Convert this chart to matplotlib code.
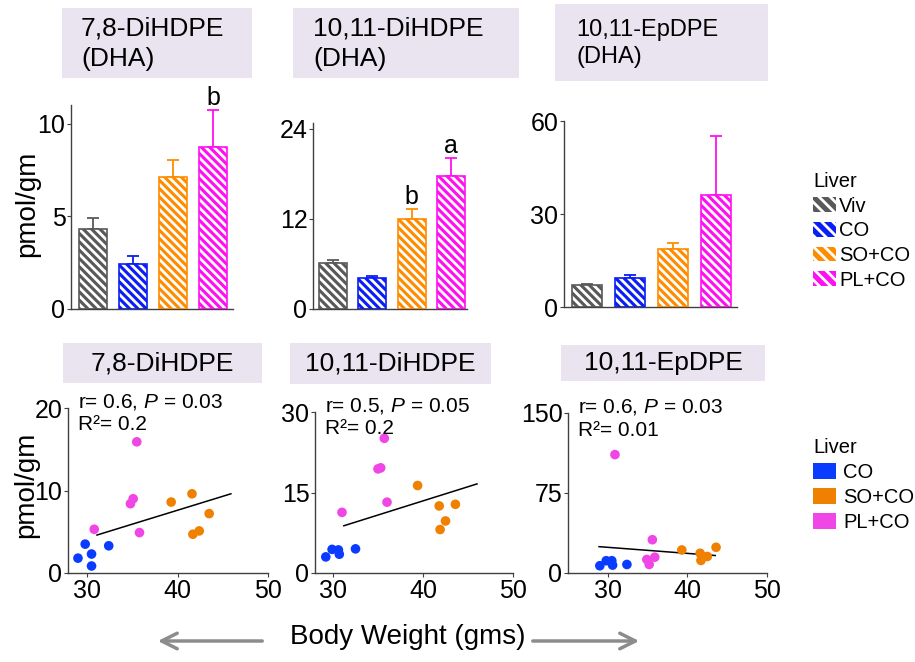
import numpy as np
import matplotlib
matplotlib.use('Agg')
import matplotlib.pyplot as plt
from matplotlib.patches import Patch, Rectangle, FancyArrowPatch

plt.rcParams['font.family'] = ['Liberation Sans', 'DejaVu Sans']
plt.rcParams['mathtext.fontset'] = 'custom'
plt.rcParams['mathtext.rm'] = 'Liberation Sans'
plt.rcParams['mathtext.it'] = 'Liberation Sans:italic'
plt.rcParams['hatch.linewidth'] = 2.0

# ---- data: bar panels (liver, pmol/gm) ----
groups = ['Viv', 'CO', 'SO+CO', 'PL+CO']
bar_colors = ['#595959', '#0A1EF5', '#FF8C00', '#FF10F0']

bar_titles = ['7,8-DiHDPE\n(DHA)', '10,11-DiHDPE\n(DHA)', '10,11-EpDPE\n(DHA)']
diHDPE78_mean = [4.3, 2.45, 7.13, 8.76]
diHDPE78_err = [0.62, 0.42, 0.92, 1.95]
diHDPE1011_mean = [6.1, 4.1, 12.0, 17.7]
diHDPE1011_err = [0.45, 0.3, 1.3, 2.4]
epDPE1011_mean = [7.0, 9.5, 18.7, 36.1]
epDPE1011_err = [0.5, 0.7, 1.9, 19.1]
bar_letters = [{3: 'b'}, {2: 'b', 3: 'a'}, {}]

# ---- data: scatter panels vs body weight ----
sc_titles = ['7,8-DiHDPE', '10,11-DiHDPE', '10,11-EpDPE']
sc_groups = ['CO', 'SO+CO', 'PL+CO']
sc_colors = ['#0A3CFF', '#F08000', '#F046E6']

bw_co = [29.0, 29.8, 30.5, 30.5, 32.4]
bw_so = [39.3, 41.6, 41.7, 42.4, 43.5]
bw_pl = [30.8, 34.8, 35.1, 35.5, 35.8]
s1_co = [1.8, 3.5, 2.3, 0.85, 3.3]
s1_so = [8.6, 9.6, 4.7, 5.1, 7.2]
s1_pl = [5.3, 8.4, 9.0, 15.9, 4.9]

bw2_co = [29.2, 29.9, 30.7, 30.6, 32.5]
bw2_so = [39.4, 41.8, 41.9, 42.5, 43.6]
bw2_pl = [31.0, 35.0, 35.3, 35.7, 36.0]
s2_co = [3.0, 4.4, 3.5, 4.3, 4.5]
s2_so = [16.3, 12.5, 8.1, 9.7, 12.8]
s2_pl = [11.3, 19.4, 19.6, 25.1, 13.2]

bw3_co = [29.0, 29.8, 30.5, 30.6, 32.4]
bw3_so = [39.3, 41.6, 41.7, 42.5, 43.6]
bw3_pl = [30.9, 34.9, 35.2, 35.6, 35.9]
s3_co = [6.8, 11.5, 11.5, 7.4, 8.0]
s3_so = [21.6, 18.5, 11.8, 15.5, 24.1]
s3_pl = [111, 12.7, 8.0, 31.2, 14.8]

# regression line ends
fit_x = [[31.1, 45.9], [31.2, 46.0], [28.9, 43.5]]
fit_y = [[4.6, 9.6], [8.8, 16.6], [24.7, 16.4]]
stats = [('r= 0.6, $\\it{P}$ = 0.03', 'R²= 0.2'),
         ('r= 0.5, $\\it{P}$ = 0.05', 'R²= 0.2'),
         ('r= 0.6, $\\it{P}$ = 0.03', 'R²= 0.01')]

W, H = 915, 662
fig = plt.figure(figsize=(W / 100, H / 100), dpi=100)


def fx(px):
    return px / W


def fy(py):
    return 1 - py / H


def axes_px(l, r, t, b):
    return fig.add_axes([fx(l), fy(b), (r - l) / W, (b - t) / H])


def style(ax):
    for s in ['top', 'right']:
        ax.spines[s].set_visible(False)
    for s in ['left', 'bottom']:
        ax.spines[s].set_color('#404040')
        ax.spines[s].set_linewidth(1.0)
    ax.tick_params(labelsize=18, length=3, width=0.8, pad=1, color='#404040')


box_color = '#E9E4EF'
HATCH = '\\\\\\\\'

# ---- top bar charts ----
bar_axes = [(71, 233, 105, 309, (0, 11), [0, 5, 10], (-0.55, 3.5)),
            (313, 467, 123, 309, (0, 24.8), [0, 12, 24], (-0.5, 3.4)),
            (564, 737, 121, 307, (0, 60), [0, 30, 60], (-0.53, 3.49))]
means = [diHDPE78_mean, diHDPE1011_mean, epDPE1011_mean]
errs = [diHDPE78_err, diHDPE1011_err, epDPE1011_err]
x = np.arange(len(groups))
for i, (l, r, t, b, yl, yt, xl) in enumerate(bar_axes):
    ax = axes_px(l, r, t, b)
    style(ax)
    for j in range(len(groups)):
        ax.errorbar(x[j], means[i][j], yerr=[[0], [errs[i][j]]], fmt='none',
                    ecolor=bar_colors[j], elinewidth=1.3, capsize=4.5,
                    capthick=1.3, zorder=1)
        ax.bar(x[j], means[i][j], width=0.7, color=bar_colors[j],
               edgecolor='white', hatch=HATCH, linewidth=0, zorder=2)
        ax.bar(x[j], means[i][j], width=0.7, fill=False,
               edgecolor=bar_colors[j], linewidth=1.2, zorder=3)
    for j, let in bar_letters[i].items():
        ax.text(x[j], means[i][j] + errs[i][j], let, ha='center', va='bottom',
                fontsize=18, clip_on=False)
    ax.set_ylim(*yl)
    ax.set_yticks(yt)
    ax.set_xlim(*xl)
    ax.set_xticks([])

# header boxes
top_boxes = [(62, 252, 8, 78, 81, 19), (293, 519, 8, 78, 313, 19),
             (555, 768, 4, 81, 576, 17)]
for (l, r, t, b, tx, fs), title in zip(top_boxes, bar_titles):
    fig.add_artist(Rectangle((fx(l), fy(b)), (r - l) / W, (b - t) / H,
                             transform=fig.transFigure, color=box_color, lw=0))
    fig.text(fx(tx), fy((t + b) / 2 + 1), title, ha='left', va='center',
             fontsize=fs, linespacing=1.32)

fig.text(fx(27), fy(204), 'pmol/gm', rotation=90, ha='center', va='center',
         fontsize=20)
fig.text(fx(26), fy(485), 'pmol/gm', rotation=90, ha='center', va='center',
         fontsize=20)

# legend for bars
bar_handles = [Patch(facecolor=c, edgecolor='white', hatch='\\\\\\', lw=0)
               for c in bar_colors]
fig.legend(bar_handles, groups, title='Liver', loc='upper left',
           bbox_to_anchor=(fx(803), fy(162)), frameon=False, fontsize=14.5,
           title_fontsize=14.5, handlelength=1.15, handleheight=0.75,
           handletextpad=0.15, labelspacing=0.28, borderpad=0,
           alignment='left')

# ---- bottom scatter charts ----
sc_axes = [(68, 268, 408, 573, (27.9, 50), (0, 20), [0, 10, 20]),
           (315, 513, 412, 573, (28, 50), (0, 30), [0, 15, 30]),
           (568, 767, 413, 573, (25, 50), (0, 150), [0, 75, 150])]
sc_x = [(bw_co, bw_so, bw_pl), (bw2_co, bw2_so, bw2_pl), (bw3_co, bw3_so, bw3_pl)]
sc_y = [(s1_co, s1_so, s1_pl), (s2_co, s2_so, s2_pl), (s3_co, s3_so, s3_pl)]
for i, (l, r, t, b, xl, yl, yt) in enumerate(sc_axes):
    ax = axes_px(l, r, t, b)
    style(ax)
    for k in range(3):
        ax.scatter(sc_x[i][k], sc_y[i][k], s=48, color=sc_colors[k],
                   edgecolors='none', zorder=3, clip_on=False)
    ax.plot(fit_x[i], fit_y[i], color='black', lw=1.1, zorder=2)
    ax.set_xlim(*xl)
    ax.set_ylim(*yl)
    ax.set_xticks([30, 40, 50])
    ax.set_yticks(yt)
    ax.text(fx(l + 10), fy(t - 6), stats[i][0], transform=fig.transFigure,
            ha='left', va='center', fontsize=15)
    ax.text(fx(l + 10), fy(t + 17), stats[i][1], transform=fig.transFigure,
            ha='left', va='center', fontsize=15)

bot_boxes = [(63, 262, 343, 383), (290, 491, 343, 384), (561, 765, 345, 381)]
for (l, r, t, b), title in zip(bot_boxes, sc_titles):
    fig.add_artist(Rectangle((fx(l), fy(b)), (r - l) / W, (b - t) / H,
                             transform=fig.transFigure, color=box_color, lw=0))
    fig.text(fx((l + r) / 2), fy((t + b) / 2), title, ha='center', va='center',
             fontsize=19)

sc_handles = [Patch(facecolor=c, lw=0) for c in sc_colors]
fig.legend(sc_handles, sc_groups, title='Liver', loc='upper left',
           bbox_to_anchor=(fx(803), fy(428)), frameon=False, fontsize=14.5,
           title_fontsize=14.5, handlelength=1.15, handleheight=0.8,
           handletextpad=0.35, labelspacing=0.3, borderpad=0, alignment='left')

# x axis label with arrows
fig.text(fx(408), fy(637), 'Body Weight (gms)', ha='center', va='center',
         fontsize=20)
for a, b2 in [((265, 641), (155, 641)), ((530, 641), (642, 641))]:
    fig.add_artist(FancyArrowPatch((fx(a[0]), fy(a[1])), (fx(b2[0]), fy(b2[1])),
                                   transform=fig.transFigure, arrowstyle='->',
                                   mutation_scale=28, color='#8C8C8C', lw=2.5))

fig.savefig('out.png', dpi=100)
